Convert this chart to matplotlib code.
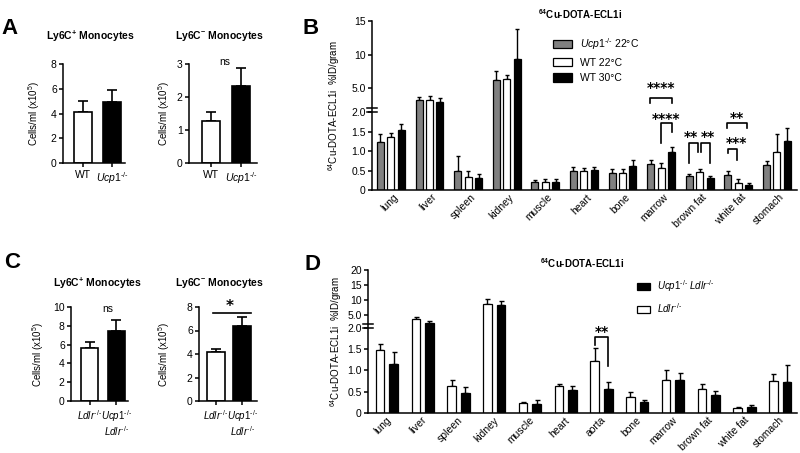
import numpy as np
import matplotlib
matplotlib.use('Agg')
import matplotlib.pyplot as plt
from matplotlib import transforms
from matplotlib.patches import Patch

plt.rcParams['font.family'] = ['Liberation Sans', 'DejaVu Sans']
plt.rcParams['mathtext.fontset'] = 'custom'
plt.rcParams['mathtext.rm'] = 'Liberation Sans'
plt.rcParams['mathtext.it'] = 'Liberation Sans:italic'
plt.rcParams['mathtext.bf'] = 'Liberation Sans:bold'

KO = r'$\it{Ucp1}^{\text{-/-}}$'
LDLR = r'$\it{Ldlr}^{\text{-/-}}$'

# ---- data ----
a_labels = ['WT', KO]
a_plus_mean = [4.1, 4.95]
a_plus_sem = [0.95, 0.95]
a_minus_mean = [1.27, 2.32]
a_minus_sem = [0.29, 0.55]

c_labels = [LDLR, KO + '\n' + LDLR]
c_plus_mean = [5.6, 7.4]
c_plus_sem = [0.67, 1.25]
c_minus_mean = [4.14, 6.4]
c_minus_sem = [0.32, 0.74]

b_tissues = ['lung', 'liver', 'spleen', 'kidney', 'muscle', 'heart', 'bone',
             'marrow', 'brown fat', 'white fat', 'stomach']
b_ko22 = [1.22, 3.2, 0.5, 6.2, 0.2, 0.49, 0.43, 0.67, 0.37, 0.38, 0.65]
b_ko22_sem = [0.22, 0.5, 0.36, 1.3, 0.06, 0.11, 0.12, 0.10, 0.03, 0.12, 0.09]
b_wt22 = [1.36, 3.2, 0.33, 6.3, 0.2, 0.49, 0.43, 0.56, 0.47, 0.18, 0.97]
b_wt22_sem = [0.11, 0.55, 0.15, 0.6, 0.07, 0.08, 0.10, 0.14, 0.06, 0.10, 0.47]
b_wt30 = [1.53, 2.95, 0.32, 9.3, 0.21, 0.51, 0.62, 0.98, 0.30, 0.14, 1.25]
b_wt30_sem = [0.17, 0.5, 0.10, 4.5, 0.07, 0.09, 0.15, 0.13, 0.06, 0.03, 0.34]

d_tissues = ['lung', 'liver', 'spleen', 'kidney', 'muscle', 'heart', 'aorta',
             'bone', 'marrow', 'brown fat', 'white fat', 'stomach']
d_ldlr = [1.49, 3.6, 0.64, 8.8, 0.23, 0.63, 1.23, 0.38, 0.78, 0.56, 0.12, 0.76]
d_ldlr_sem = [0.14, 0.8, 0.14, 1.4, 0.03, 0.06, 0.30, 0.11, 0.24, 0.11, 0.02, 0.16]
d_ko_ldlr = [1.15, 2.45, 0.48, 8.4, 0.21, 0.53, 0.57, 0.25, 0.77, 0.43, 0.15, 0.72]
d_ko_ldlr_sem = [0.28, 0.65, 0.14, 1.2, 0.09, 0.10, 0.17, 0.06, 0.18, 0.08, 0.03, 0.41]

W, H = 800, 453
fig = plt.figure(figsize=(W / 100, H / 100), dpi=100)
fig.patch.set_facecolor('white')


def add_ax(x0, x1, y0, y1):
    # pixel box -> figure fraction
    return fig.add_axes([x0 / W, 1 - y1 / H, (x1 - x0) / W, (y1 - y0) / H])


def style(ax, lw=1.1):
    for s in ['top', 'right']:
        ax.spines[s].set_visible(False)
    for s in ['left', 'bottom']:
        ax.spines[s].set_linewidth(lw)
    ax.tick_params(width=lw, length=3, labelsize=7.5, pad=1.5, colors='black')


def ylabel_at(ax, text, xpix):
    ax.set_ylabel(text, fontsize=7)
    tr = transforms.blended_transform_factory(fig.transFigure, ax.transAxes)
    ax.yaxis.set_label_coords(xpix / W, 0.5, transform=tr)


def small_panel(ax, means, sems, labels, yticks, xlim, width, ylab_x, xfs=7.5):
    x = np.arange(len(means))
    ax.errorbar(x, means, yerr=[np.zeros(len(means)), sems], fmt='none',
                ecolor='black', elinewidth=1.2, capsize=3.5, capthick=1.2, zorder=1)
    ax.bar(x, means, width, color=['white', 'black'], edgecolor='black',
           linewidth=1.2, zorder=2)
    style(ax)
    ax.set_xlim(*xlim)
    ax.set_ylim(yticks[0], yticks[-1])
    ax.set_yticks(yticks)
    ax.set_xticks(x)
    ax.set_xticklabels(labels, fontsize=xfs, linespacing=1.0)
    ax.tick_params(axis='x', pad=2)
    ylabel_at(ax, r'Cells/ml (x10$^{5}$)', ylab_x)


def broken(split, gap, slope):
    def fwd(y):
        y = np.asarray(y, dtype=float)
        return np.where(y <= split, y, split + gap + (y - split) * slope)

    def inv(t):
        t = np.asarray(t, dtype=float)
        return np.where(t <= split, t, split + (t - split - gap) / slope)
    return fwd, inv


def break_marks(ax, split):
    tr = ax.get_yaxis_transform()
    for yv in (split, split + 1e-6):
        ax.plot([-0.012, 0.012], [yv, yv], color='black', lw=1.1,
                transform=tr, clip_on=False, zorder=5)


def sig(ax, x0, x1, top, leg0, leg1, stars, ty, tx=None):
    tr = ax.get_xaxis_transform()
    ax.plot([x0, x0, x1, x1], [leg0, top, top, leg1], color='black', lw=1.2,
            transform=tr, clip_on=False)
    if tx is None:
        tx = (x0 + x1) / 2
    ax.text(tx, ty, stars, transform=tr, ha='center', va='baseline',
            fontsize=10, fontweight='bold', family='DejaVu Sans')


def rotated_labels(ax, labels, dx):
    ax.set_xticklabels(labels, rotation=45, ha='right', va='top',
                       rotation_mode='anchor', fontsize=7.5)
    off = transforms.ScaledTranslation(dx / 100, 0, fig.dpi_scale_trans)
    for lab in ax.get_xticklabels():
        lab.set_transform(lab.get_transform() + off)


# ---- panel A ----
axA1 = add_ax(63, 125, 64, 163)
small_panel(axA1, a_plus_mean, a_plus_sem, a_labels, [0, 2, 4, 6, 8],
            (-0.69, 1.45), 0.62, 41.5)
axA2 = add_ax(189, 257, 64, 163)
small_panel(axA2, a_minus_mean, a_minus_sem, a_labels, [0, 1, 2, 3],
            (-0.73, 1.53), 0.62, 171.5)
axA2.text(0.45, 2.97, 'ns', ha='center', va='baseline', fontsize=7.5)

# ---- panel C ----
axC1 = add_ax(71, 128, 307, 401)
small_panel(axC1, c_plus_mean, c_plus_sem, c_labels, [0, 2, 4, 6, 8, 10],
            (-0.69, 1.43), 0.63, 46.5, xfs=7)
axC1.text(0.67, 9.47, 'ns', ha='center', va='baseline', fontsize=7.5)
axC2 = add_ax(199, 257, 307, 401)
small_panel(axC2, c_minus_mean, c_minus_sem, c_labels, [0, 2, 4, 6, 8],
            (-0.64, 1.55), 0.68, 171.5, xfs=7)
axC2.plot([-0.1, 1.32], [7.51, 7.51], color='black', lw=1.2, clip_on=False)
axC2.text(0.53, 7.66, '*', ha='center', va='baseline', fontsize=11,
          fontweight='bold', family='DejaVu Sans', clip_on=False)

# ---- panel B ----
axB = add_ax(372, 797, 21, 190)
fB, iB = broken(2.0, 0.1, 0.172)
axB.set_yscale('function', functions=(fB, iB))
xb = np.arange(len(b_tissues))
b_series = [(b_ko22, b_ko22_sem, '#808080'), (b_wt22, b_wt22_sem, 'white'),
            (b_wt30, b_wt30_sem, 'black')]
b_offs = [-0.27, 0.0, 0.27]
for (vals, errs, col), off in zip(b_series, b_offs):
    axB.errorbar(xb + off, vals, yerr=[np.zeros(len(vals)), errs], fmt='none',
                 ecolor='black', elinewidth=1.0, capsize=1.5, capthick=1.0, zorder=1)
    axB.bar(xb + off, vals, 0.18, color=col, edgecolor='black', linewidth=0.9, zorder=2)
style(axB)
axB.set_xlim(-0.49, 10.52)
axB.set_ylim(0, 15)
axB.set_yticks([0, 0.5, 1.0, 1.5, 2.0, 5.0, 10, 15])
axB.set_yticklabels(['0', '0.5', '1.0', '1.5', '2.0', '5.0', '10', '15'])
axB.set_xticks(xb)
axB.tick_params(axis='x', length=0, pad=1.5)
rotated_labels(axB, b_tissues, 2)
break_marks(axB, 2.0)
ylabel_at(axB, r'$^{64}$Cu-DOTA-ECL1i  %ID/gram', 341.5)

im = b_tissues.index('marrow')
sig(axB, im - 0.3, im + 0.28, 0.544, 0.515, 0.515, '****', 0.58)
sig(axB, im, im + 0.28, 0.396, 0.278, 0.343, '****', 0.396)
ib = b_tissues.index('brown fat')
sig(axB, ib - 0.27, ib - 0.04, 0.278, 0.160, 0.225, '**', 0.29, ib - 0.24)
sig(axB, ib + 0.04, ib + 0.27, 0.278, 0.225, 0.160, '**', 0.29, ib + 0.22)
iw = b_tissues.index('white fat')
sig(axB, iw - 0.3, iw + 0.22, 0.396, 0.367, 0.367, '**', 0.40, iw - 0.04)
sig(axB, iw - 0.27, iw - 0.04, 0.243, 0.219, 0.178, '***', 0.254, iw - 0.04)

fig.legend(handles=[Patch(facecolor='#808080', edgecolor='black', lw=0.9),
                    Patch(facecolor='white', edgecolor='black', lw=0.9),
                    Patch(facecolor='black', edgecolor='black', lw=0.9)],
           labels=[KO + ' 22°C', 'WT 22°C', 'WT 30°C'],
           loc='upper left', bbox_to_anchor=(553 / W, 1 - 36 / H),
           frameon=False, fontsize=7.5, handlelength=1.8, handleheight=0.85,
           handletextpad=0.75, labelspacing=0.55, borderpad=0, borderaxespad=0)

# ---- panel D ----
axD = add_ax(368, 797, 270, 413)
fD, iD = broken(2.0, 0.094, 0.0704)
axD.set_yscale('function', functions=(fD, iD))
xd = np.arange(len(d_tissues))
d_series = [(d_ldlr, d_ldlr_sem, 'white'), (d_ko_ldlr, d_ko_ldlr_sem, 'black')]
d_offs = [-0.19, 0.19]
for (vals, errs, col), off in zip(d_series, d_offs):
    axD.errorbar(xd + off, vals, yerr=[np.zeros(len(vals)), errs], fmt='none',
                 ecolor='black', elinewidth=1.0, capsize=1.8, capthick=1.0, zorder=1)
    axD.bar(xd + off, vals, 0.24, color=col, edgecolor='black', linewidth=0.9, zorder=2)
style(axD)
axD.set_xlim(-0.53, 11.47)
axD.set_ylim(0, 20)
axD.set_yticks([0, 0.5, 1.0, 1.5, 2.0, 5.0, 10, 15, 20])
axD.set_yticklabels(['0', '0.5', '1.0', '1.5', '2.0', '5.0', '10', '15', '20'])
axD.set_xticks(xd)
axD.tick_params(axis='x', length=0, pad=1.5)
rotated_labels(axD, d_tissues, -1)
break_marks(axD, 2.0)
ylabel_at(axD, r'$^{64}$Cu-DOTA-ECL1i  %ID/gram', 344.5)

ia = d_tissues.index('aorta')
sig(axD, ia - 0.18, ia + 0.18, 0.531, 0.476, 0.329, '**', 0.538)

fig.legend(handles=[Patch(facecolor='black', edgecolor='black', lw=0.9),
                    Patch(facecolor='white', edgecolor='black', lw=0.9)],
           labels=[KO + ' ' + LDLR, LDLR],
           loc='upper left', bbox_to_anchor=(637 / W, 1 - 278 / H),
           frameon=False, fontsize=7, handlelength=1.35, handleheight=0.8,
           handletextpad=0.7, labelspacing=0.75, borderpad=0, borderaxespad=0)


# ---- titles and panel letters ----
def ftext(x, y, s, **kw):
    fig.text(x / W, 1 - y / H, s, ha='center', va='center', **kw)


ftext(90, 36, r'Ly6C$^{\mathbf{+}}$ Monocytes', fontsize=7.5, fontweight='bold')
ftext(219, 36, r'Ly6C$^{\mathbf{-}}$ Monocytes', fontsize=7.5, fontweight='bold')
ftext(97, 283, r'Ly6C$^{\mathbf{+}}$ Monocytes', fontsize=7.5, fontweight='bold')
ftext(219, 283, r'Ly6C$^{\mathbf{-}}$ Monocytes', fontsize=7.5, fontweight='bold')
ftext(580, 14, r'$^{\mathbf{64}}$Cu-DOTA-ECL1i', fontsize=7, fontweight='bold')
ftext(582, 263, r'$^{\mathbf{64}}$Cu-DOTA-ECL1i', fontsize=7, fontweight='bold')

for letter, (lx, ly) in zip('ABCD', [(9, 29), (311, 28), (12, 263), (312, 264)]):
    ftext(lx, ly, letter, fontsize=16, fontweight='bold')

fig.savefig('out.png', dpi=100, facecolor='white')
